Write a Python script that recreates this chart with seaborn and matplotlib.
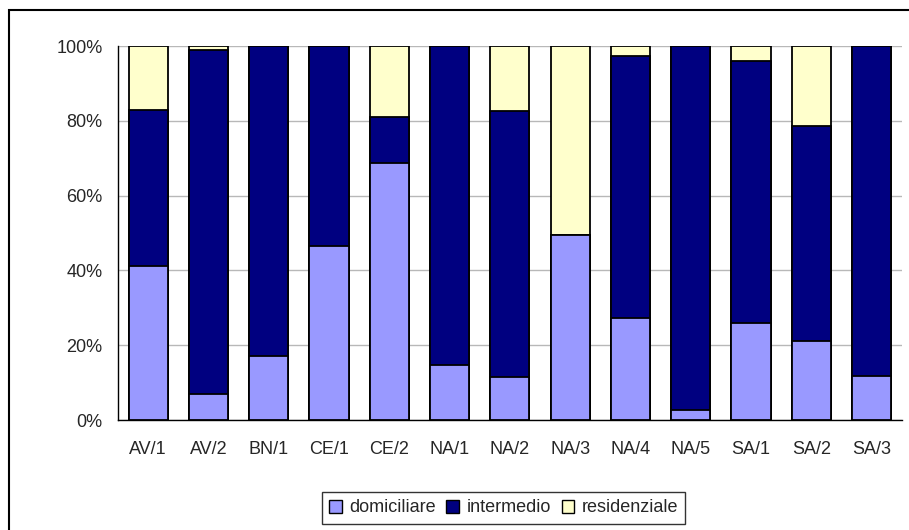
import numpy as np
import matplotlib
matplotlib.use("Agg")
import matplotlib.pyplot as plt
from matplotlib.patches import Patch, Rectangle
import seaborn as sns

categories = ["AV/1", "AV/2", "BN/1", "CE/1", "CE/2", "NA/1", "NA/2",
              "NA/3", "NA/4", "NA/5", "SA/1", "SA/2", "SA/3"]
domiciliare = [41.2, 6.9, 17.1, 46.6, 68.8, 14.8, 11.4, 49.6, 27.2, 2.7, 25.9, 21.1, 11.8]
intermedio = [41.6, 91.9, 82.9, 53.4, 12.1, 85.2, 71.1, 0.0, 70.2, 97.3, 70.1, 57.4, 88.2]
residenziale = [17.2, 1.2, 0.0, 0.0, 19.1, 0.0, 17.5, 50.4, 2.6, 0.0, 4.0, 21.5, 0.0]

colors = {"domiciliare": "#9999FF", "intermedio": "#000080", "residenziale": "#FFFFCC"}

sns.set_style("white")
plt.rcParams["font.family"] = ["Liberation Sans", "DejaVu Sans"]

fig = plt.figure(figsize=(9.09, 5.30), dpi=100)
ax = fig.add_axes([0.1298, 0.2075, 0.8622, 0.7057])

# cumulative layers, drawn back to front
dom = np.array(domiciliare)
mid = dom + np.array(intermedio)
top = mid + np.array(residenziale)
for vals, key in [(top, "residenziale"), (mid, "intermedio"), (dom, "domiciliare")]:
    sns.barplot(x=categories, y=vals, color=colors[key], saturation=1,
                edgecolor="black", linewidth=1.3, width=0.65, ax=ax, zorder=3)

ax.set_ylim(0, 100)
ax.set_xlim(-0.5, len(categories) - 0.5)
ax.set_yticks([0, 20, 40, 60, 80, 100])
ax.set_yticklabels([f"{v}%" for v in [0, 20, 40, 60, 80, 100]], fontsize=13)
ax.yaxis.grid(True, color="#B8B8B8", linewidth=1, zorder=0)
ax.set_axisbelow(True)

# category ticks sit between bars
ax.set_xticks(np.arange(len(categories)))
ax.set_xticklabels(categories, fontsize=13)
ax.tick_params(axis="x", length=0, pad=15)
ax.set_xticks(np.arange(-0.5, len(categories)), minor=True)
ax.tick_params(axis="x", which="minor", length=5, width=1, color="black", direction="out")
ax.tick_params(axis="y", length=5, width=1, color="black", direction="out", pad=6)

for s in ["top", "right"]:
    ax.spines[s].set_visible(False)
for s in ["left", "bottom"]:
    ax.spines[s].set_color("black")
    ax.spines[s].set_linewidth(1)
ax.set_xlabel("")
ax.set_ylabel("")

handles = [Patch(facecolor=colors[k], edgecolor="black", linewidth=1) for k in colors]
leg = fig.legend(handles, list(colors.keys()), loc="center", ncol=3,
                 bbox_to_anchor=(503.5 / 909, 1 - 508 / 530), fontsize=13,
                 frameon=True, fancybox=False, edgecolor="black",
                 handlelength=0.7, handleheight=0.7, handletextpad=0.4,
                 columnspacing=0.6, borderpad=0.4, borderaxespad=0)
leg.get_frame().set_linewidth(1)

# outer chart border (cropped on the right and bottom)
fig.patches.append(Rectangle((9 / 909, -0.1), 1.2, 1 - 10 / 530 + 0.1,
                             transform=fig.transFigure, fill=False,
                             edgecolor="black", linewidth=1.5, figure=fig))

fig.savefig("out.png", dpi=100)
